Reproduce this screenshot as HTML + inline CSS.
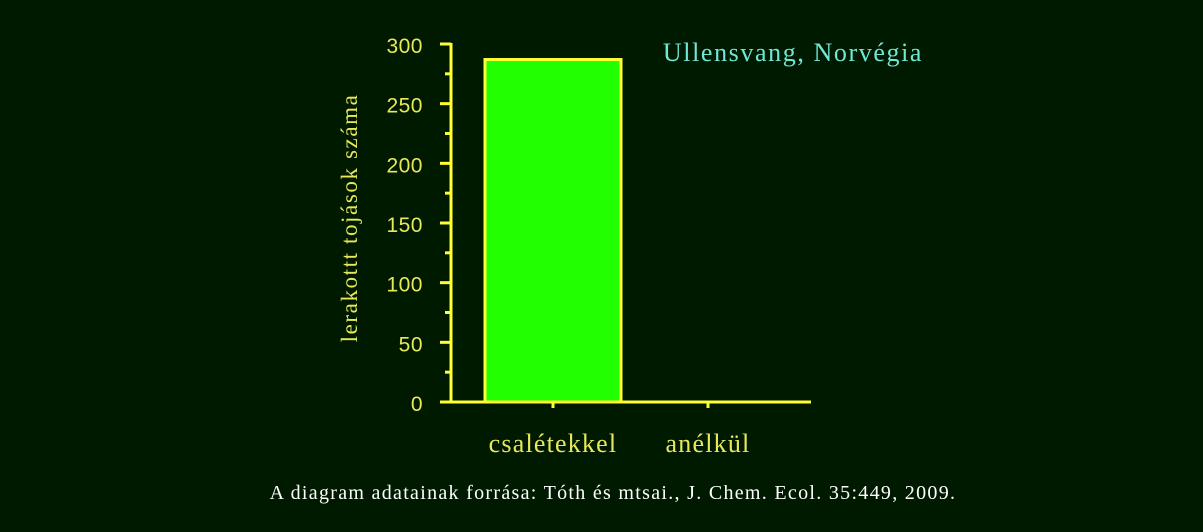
<!DOCTYPE html>
<html><head><meta charset="utf-8"><style>
html,body{margin:0;padding:0;background:#001a00;}
svg{display:block}
</style></head><body>
<svg width="1203" height="532" viewBox="0 0 1203 532">
<rect width="1203" height="532" fill="#001a00"/>
<g id="plot"></g>
<text x="793" y="61" fill="#70e8d8" font-family="Liberation Serif, serif" font-size="26" letter-spacing="1.6" text-anchor="middle">Ullensvang, Norvégia</text>
<text transform="translate(357,218) rotate(-90)" fill="#e8e85a" font-family="Liberation Serif, serif" font-size="23" letter-spacing="1.6" text-anchor="middle">lerakottt tojások száma</text>
<text x="613" y="499" fill="#ffffff" font-family="Liberation Serif, serif" font-size="20" letter-spacing="1.3" text-anchor="middle">A diagram adatainak forrása: Tóth és mtsai., J. Chem. Ecol. 35:449, 2009.</text>
</svg>
<script>
const categories = ["csalétekkel", "anélkül"];
const values = [287, 0];
const yTicks = [0, 50, 100, 150, 200, 250, 300];
const NS = "http://www.w3.org/2000/svg";
const g = document.getElementById("plot");
const Y0 = 402, Y300 = 44, AX = 451, XEND = 811;
const y = v => Y0 - (v / 300) * (Y0 - Y300);
const xc = i => 553 + i * 155;
const barW = 136;
const yellow = "#ffff33";
function mk(tag, attrs) { const e = document.createElementNS(NS, tag); for (const k in attrs) e.setAttribute(k, attrs[k]); g.appendChild(e); return e; }
values.forEach((v, i) => {
  if (v > 0) {
    const r = mk("rect", {x: xc(i) - barW / 2, y: y(v), width: barW, height: Y0 - y(v), fill: "#22ff00", stroke: yellow, "stroke-width": 3});
    
    
  }
});
const ya = mk("line", {x1: AX, y1: Y300 - 1, x2: AX, y2: Y0, stroke: yellow, "stroke-width": 3});


const xa = mk("line", {x1: 440, y1: Y0, x2: XEND, y2: Y0, stroke: yellow, "stroke-width": 3});


yTicks.forEach(t => {
  const tk = mk("line", {x1: 440, y1: y(t), x2: AX, y2: y(t), stroke: yellow, "stroke-width": 3});
  
  
  const lb = mk("text", {x: 423, y: y(t) + 9, fill: "#e8e85a", "font-family": "Liberation Sans, sans-serif", "font-size": 21, "letter-spacing": 0.5, "text-anchor": "end"});
  lb.textContent = t;
  
  
  if (t < 300) {
    const m = mk("line", {x1: 445, y1: y(t + 25), x2: AX, y2: y(t + 25), stroke: yellow, "stroke-width": 3});
    
    
  }
});
categories.forEach((c, i) => {
  const tk = mk("line", {x1: xc(i), y1: Y0, x2: xc(i), y2: Y0 + 6, stroke: yellow, "stroke-width": 3});
  
  
  const lb = mk("text", {x: xc(i), y: 452, fill: "#e8e85a", "font-family": "Liberation Serif, serif", "font-size": 26, "letter-spacing": 1.2, "text-anchor": "middle"});
  lb.textContent = c;
  
  
});
</script>
</body></html>
